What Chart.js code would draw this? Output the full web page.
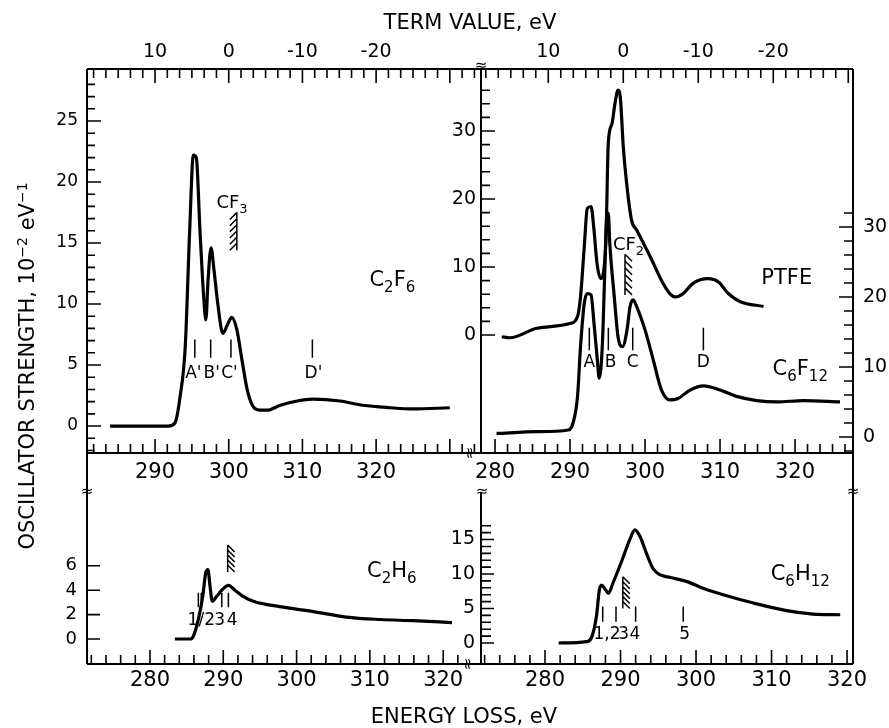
<!DOCTYPE html>
<html>
<head>
<meta charset="utf-8">
<script src="https://cdn.jsdelivr.net/npm/chart.js@4.4.1/dist/chart.umd.min.js"></script>
<style>
  body { margin: 0; background: #fff; }
  #fig { position: relative; width: 889px; height: 728px; overflow: hidden; font-family: 'DejaVu Sans', sans-serif; color: #000; }
  #fig canvas { position: absolute; left: 0; top: 0; }
  .title { position: absolute; font-size: 21px; line-height: 24px; white-space: nowrap; text-align: center; }
  .title sup { font-size: 14px; line-height: 0; vertical-align: 7px; }
  #termTitle { left: 370px; top: 10px; width: 200px; }
  #lossTitle { left: 364px; top: 704px; width: 200px; }
  #yTitle { left: -193px; top: 354px; width: 440px; transform: rotate(-90deg); }
</style>
</head>
<body>
<div id="fig">
  <canvas id="panelTL" width="889" height="728"></canvas>
  <canvas id="panelTR" width="889" height="728"></canvas>
  <canvas id="panelBL" width="889" height="728"></canvas>
  <canvas id="panelBR" width="889" height="728"></canvas>
  <div class="title" id="termTitle">TERM VALUE, eV</div>
  <div class="title" id="lossTitle">ENERGY LOSS, eV</div>
  <div class="title" id="yTitle">OSCILLATOR STRENGTH, 10<sup>−2</sup> eV<sup>−1</sup></div>
</div>
<script>
// ===================== Data =====================
const termTicks = [10, 0, -10, -20];
const c2f6XTicks = [290, 300, 310, 320];
const polyXTicks = [280, 290, 300, 310, 320];
const lowerXTicks = [280, 290, 300, 310, 320];
const c2f6YTicks = [0, 5, 10, 15, 20, 25];
const ptfeYTicks = [0, 10, 20, 30];
const c6f12YTicks = [0, 10, 20, 30];
const c2h6YTicks = [0, 2, 4, 6];
const c6h12YTicks = [0, 5, 10, 15];

// ionization limits used for the term value scales (term = IP - E)
const c2f6IP = 300.0;
const polyIP = 297.1;

// C2F6 (upper left)
const c2f6E = [283.9, 291.8, 292.7, 293.4, 294.1, 294.7, 295.2, 295.6, 296.1, 296.6, 296.9, 297.2, 297.6, 298.0, 298.5, 299.2, 299.9, 300.4, 301.1, 301.8, 302.5, 303.2, 304.2, 305.2, 307.0, 309.3, 311.4, 315.1, 318.2, 321.9, 325.0, 330.0];
const c2f6V = [0, 0, 0.25, 2.4, 6.5, 16, 22.2, 22, 16, 10.6, 8.7, 12, 14.6, 12.8, 10.1, 7.6, 8.4, 8.9, 7.9, 5.4, 3.0, 1.7, 1.3, 1.3, 1.7, 2.05, 2.2, 2.05, 1.7, 1.5, 1.4, 1.5];
const c2f6MarkE = [295.4, 297.55, 300.3, 311.35];
const c2f6LabelE = [295.2, 297.7, 300.1, 311.5];
const c2f6Names = ["A'", "B'", "C'", "D'"];

// PTFE and C6F12 (upper right)
const ptfeE = [280.9, 282.0, 285.6, 290.0, 291.0, 291.4, 291.9, 292.3, 292.8, 293.2, 293.6, 294.1, 294.4, 294.8, 295.1, 295.6, 296.0, 296.4, 296.7, 297.1, 297.6, 298.2, 298.9, 300.7, 302.4, 303.3, 304.1, 305.1, 306.4, 308.4, 309.8, 311.1, 312.7, 315.8];
const ptfeV = [-0.25, -0.4, 1.0, 1.7, 2.7, 5.6, 13.0, 18.6, 18.9, 15.4, 10.5, 8.3, 8.8, 14.5, 28.2, 31.1, 34.1, 36.0, 35.0, 27.7, 21.8, 16.9, 15.4, 11.5, 7.6, 6.1, 5.6, 6.1, 7.6, 8.3, 7.8, 6.1, 4.9, 4.2];
const c6f12E = [280.2, 285.6, 289.8, 290.4, 291.0, 291.4, 291.9, 292.3, 292.8, 293.2, 293.6, 293.9, 294.3, 294.6, 294.9, 295.1, 295.3, 295.9, 296.4, 297.0, 297.6, 298.0, 298.4, 298.9, 300.0, 301.1, 302.2, 303.3, 304.4, 306.0, 307.8, 310.0, 312.2, 314.9, 317.6, 321.1, 326.0];
const c6f12V = [0.5, 0.75, 1.0, 2.0, 5.8, 12.9, 19.1, 20.5, 20.3, 16.2, 11.5, 8.4, 12.9, 22.4, 31.5, 32.0, 27.7, 20.0, 14.3, 12.9, 15.3, 18.6, 19.6, 18.6, 15.3, 11.0, 6.7, 5.3, 5.5, 6.7, 7.3, 6.7, 5.8, 5.2, 5.0, 5.2, 5.0];
const c6f12MarkE = [292.57, 295.11, 298.36, 307.78];
const c6f12LabelE = [292.57, 295.4, 298.36, 307.78];
const c6f12Names = ['A', 'B', 'C', 'D'];

// C2H6 (lower left)
const c2h6E = [283.4, 285.5, 285.9, 286.6, 287.2, 287.6, 287.9, 288.2, 288.5, 289.1, 289.8, 290.7, 291.6, 292.7, 294.1, 297.7, 302.3, 306.8, 311.4, 315.9, 321.2];
const c2h6V = [0, 0, 0.2, 1.6, 3.5, 5.4, 5.7, 4.3, 3.1, 3.5, 4.0, 4.4, 4.0, 3.5, 3.1, 2.65, 2.25, 1.8, 1.6, 1.5, 1.35];
const c2h6MarkE = [286.6, 287.0, 289.8, 290.7];
const c2h6LabelE = [287.0, 289.5, 291.2];
const c2h6Names = ['1/2', '3', '4'];

// C6H12 (lower right)
const c6h12E = [281.8, 285.5, 286.2, 286.8, 287.2, 287.5, 287.9, 288.4, 289.0, 290.2, 291.3, 291.9, 292.6, 293.5, 294.3, 295.2, 296.6, 298.8, 301.0, 303.6, 307.6, 312.0, 315.5, 319.1];
const c6h12V = [0, 0.2, 0.9, 3.8, 7.7, 8.4, 7.9, 7.2, 8.7, 12.0, 15.2, 16.4, 15.4, 12.8, 10.8, 9.9, 9.5, 8.9, 7.9, 7.0, 5.8, 4.7, 4.2, 4.1];
const c6h12MarkE = [287.64, 289.4, 292.0, 298.3];
const c6h12LabelE = [288.2, 290.4, 291.9, 298.5];
const c6h12Names = ['1,2', '3', '4', '5'];

// ===================== Helpers =====================
const FONT = "'DejaVu Sans', sans-serif";
const W = 889, H = 728;

const pts = (xs, ys) => xs.map((x, i) => ({ x: x, y: ys[i] }));

// fixed box size per axis so the chart area lands exactly on the panel
function linAxis(position, min, max, values, size, pad, box, reverse) {
    const vertical = position === 'left' || position === 'right';
    return {
        type: 'linear',
        position: position,
        min: min,
        max: max,
        reverse: !!reverse,
        boxSize: box,
        grid: { display: false, drawTicks: false },
        border: { display: false },
        ticks: {
            color: '#000',
            padding: pad,
            autoSkip: false,
            maxRotation: 0,
            font: { family: FONT, size: size, lineHeight: 1 },
            callback: v => String(v)
        },
        afterBuildTicks: a => { a.ticks = values.map(v => ({ value: v })); },
        afterFit: a => { if (vertical) a.width = box; else a.height = box; }
    };
}

function drawChem(ctx, text, cx, cy, size) {
    const parts = text.match(/[^0-9]+|[0-9]+/g);
    const sub = Math.round(size * 0.72);
    let total = 0;
    const items = parts.map(p => {
        const isSub = /^[0-9]/.test(p);
        ctx.font = (isSub ? sub : size) + 'px ' + FONT;
        const w = ctx.measureText(p).width;
        total += w;
        return { p, isSub, w };
    });
    let x = cx - total / 2;
    const base = cy + size * 0.36;
    ctx.textAlign = 'left';
    ctx.textBaseline = 'alphabetic';
    items.forEach(it => {
        ctx.font = (it.isSub ? sub : size) + 'px ' + FONT;
        ctx.fillText(it.p, x, it.isSub ? base + size * 0.3 : base);
        x += it.w;
    });
}

// frame, inward ticks, peak markers, labels, hatches
const panelDecor = {
    id: 'panelDecor',
    afterDraw(chart, args, o) {
        const ctx = chart.ctx, a = chart.chartArea, sc = chart.scales;
        ctx.save();
        ctx.strokeStyle = '#000';
        ctx.fillStyle = '#000';
        ctx.lineCap = 'butt';

        // frame
        ctx.lineWidth = 2;
        ctx.beginPath();
        (o.frame || []).forEach(f => {
            const from = f.from || 0;
            if (f.side === 'left') { ctx.moveTo(a.left, a.top + from); ctx.lineTo(a.left, a.bottom); }
            if (f.side === 'right') { ctx.moveTo(a.right, a.top); ctx.lineTo(a.right, a.bottom); }
            if (f.side === 'top') { ctx.moveTo(a.left, a.top); ctx.lineTo(a.right, a.top); }
            if (f.side === 'bottom') { ctx.moveTo(a.left, a.bottom); ctx.lineTo(a.right, a.bottom); }
        });
        ctx.stroke();

        // ticks
        ctx.lineWidth = 1.6;
        ctx.beginPath();
        (o.ticks || []).forEach(t => {
            const s = sc[t.scale];
            const n = Math.round((t.end - t.start) / t.major * t.per);
            for (let k = 0; k <= n; k++) {
                const v = t.start + k * t.major / t.per;
                if (t.lo !== undefined && v < t.lo) continue;
                if (t.hi !== undefined && v > t.hi) continue;
                const p = s.getPixelForValue(v);
                const len = (k % t.per === 0) ? t.majorLen : t.minorLen;
                if (t.side === 'top' || t.side === 'bottom') {
                    if (p < a.left + 2 || p > a.right - 2) continue;
                    const y0 = t.side === 'top' ? a.top : a.bottom;
                    ctx.moveTo(p, y0);
                    ctx.lineTo(p, t.side === 'top' ? y0 + len : y0 - len);
                } else {
                    if (p < a.top + 2 || p > a.bottom - 2) continue;
                    const x0 = t.side === 'left' ? a.left : a.right;
                    ctx.moveTo(x0, p);
                    ctx.lineTo(t.side === 'left' ? x0 + len : x0 - len, p);
                }
            }
        });
        ctx.stroke();

        // peak markers
        ctx.lineWidth = 1.5;
        (o.markers || []).forEach(m => {
            const xs = sc.x, ys = sc[m.yScale || 'y'];
            ctx.beginPath();
            m.energies.forEach(e => {
                const px = xs.getPixelForValue(e);
                ctx.moveTo(px, ys.getPixelForValue(m.y0));
                ctx.lineTo(px, ys.getPixelForValue(m.y1));
            });
            ctx.stroke();
            ctx.font = m.size + 'px ' + FONT;
            ctx.textAlign = 'center';
            ctx.textBaseline = 'middle';
            m.labelE.forEach((e, i) => {
                ctx.fillText(m.names[i], xs.getPixelForValue(e), ys.getPixelForValue(m.labelY));
            });
        });

        // hatched thresholds
        (o.hatches || []).forEach(h => {
            const ys = sc[h.yScale || 'y'];
            const px = sc.x.getPixelForValue(h.x);
            const py0 = ys.getPixelForValue(h.y0), py1 = ys.getPixelForValue(h.y1);
            ctx.lineWidth = 1.5;
            ctx.beginPath();
            ctx.moveTo(px, py0);
            ctx.lineTo(px, py1);
            const step = (py1 - py0 - 7) / (h.n - 1);
            for (let i = 0; i < h.n; i++) {
                const py = py0 + i * step;
                ctx.moveTo(px, py);
                ctx.lineTo(px + h.dir * 7, py + 7);
            }
            ctx.stroke();
        });

        // curve labels
        (o.labels || []).forEach(l => {
            const ys = sc[l.yScale || 'y'];
            drawChem(ctx, l.text, sc.x.getPixelForValue(l.x), ys.getPixelForValue(l.y), l.size);
        });

        // axis break symbols
        (o.breaks || []).forEach(b => {
            ctx.save();
            ctx.translate(b.x, b.y);
            ctx.rotate(b.rot * Math.PI / 180);
            ctx.font = '15px ' + FONT;
            ctx.textAlign = 'center';
            ctx.textBaseline = 'middle';
            ctx.fillText('\u2248', 0, 0);
            ctx.restore();
        });
        ctx.restore();
    }
};

function panelChart(id, area, datasets, scales, decor) {
    // subtract the fixed axis boxes from the outer padding
    const pad = { left: area.l, top: area.t, right: W - area.r, bottom: H - area.b };
    Object.values(scales).forEach(s => { pad[s.position] -= s.boxSize; });
    return new Chart(document.getElementById(id), {
        type: 'line',
        data: { datasets: datasets },
        options: {
            responsive: false,
            animation: false,
            devicePixelRatio: 1,
            layout: { padding: pad },
            elements: {
                point: { radius: 0 },
                line: { borderColor: '#000', borderWidth: 3.2, cubicInterpolationMode: 'monotone', fill: false }
            },
            plugins: { legend: { display: false }, tooltip: { enabled: false }, panelDecor: decor },
            scales: scales
        },
        plugins: [panelDecor]
    });
}

// ===================== Panels =====================
// upper left: C2F6
const tlMin = 280.77, tlMax = 334.23;
panelChart('panelTL', { l: 87, t: 69, r: 481, b: 453 },
    [{ data: pts(c2f6E, c2f6V) }],
    {
        x: linAxis('bottom', tlMin, tlMax, c2f6XTicks, 21, 9.5, 40),
        xt: linAxis('top', c2f6IP - tlMax, c2f6IP - tlMin, termTicks, 19, 7, 40, true),
        y: linAxis('left', -2.21, 29.26, c2f6YTicks, 17, 9, 60)
    },
    {
        frame: [{ side: 'left' }, { side: 'top' }, { side: 'right' }, { side: 'bottom' }],
        ticks: [
            { scale: 'xt', side: 'top', start: -40, end: 20, major: 10, per: 6, majorLen: 14, minorLen: 9 },
            { scale: 'x', side: 'bottom', start: 270, end: 340, major: 10, per: 6, majorLen: 14, minorLen: 9 },
            { scale: 'y', side: 'left', start: -5, end: 28, major: 5, per: 5, majorLen: 14, minorLen: 8 }
        ],
        markers: [{ energies: c2f6MarkE, labelE: c2f6LabelE, names: c2f6Names, y0: 7.1, y1: 5.6, labelY: 4.3, size: 17 }],
        hatches: [{ x: 301.1, y0: 17.5, y1: 14.4, dir: -1, n: 6 }],
        labels: [
            { text: 'C2F6', x: 322.2, y: 12.1, size: 21 },
            { text: 'CF3', x: 300.45, y: 18.4, size: 18 }
        ],
        breaks: [
            { x: 481, y: 66, rot: 0 },
            { x: 469, y: 453, rot: 90 },
            { x: 87, y: 492, rot: 0 },
            { x: 482, y: 492, rot: 0 },
            { x: 853, y: 492, rot: 0 },
            { x: 467, y: 664, rot: 90 }
        ]
    });

// upper right: PTFE and C6F12
const trMin = 278.13, trMax = 327.73;
panelChart('panelTR', { l: 481, t: 69, r: 853, b: 453 },
    [
        { data: pts(ptfeE, ptfeV), yAxisID: 'y' },
        { data: pts(c6f12E, c6f12V), yAxisID: 'y2' }
    ],
    {
        x: linAxis('bottom', trMin, trMax, polyXTicks, 21, 9.5, 40),
        xt: linAxis('top', polyIP - trMax, polyIP - trMin, termTicks, 19, 7, 40, true),
        y: linAxis('left', -17.35, 39.12, ptfeYTicks, 19, 5, 60),
        y2: linAxis('right', -2.29, 52.57, c6f12YTicks, 19, 10, 36)
    },
    {
        frame: [{ side: 'left' }, { side: 'top' }, { side: 'right' }, { side: 'bottom' }],
        ticks: [
            { scale: 'xt', side: 'top', start: -40, end: 20, major: 10, per: 6, majorLen: 14, minorLen: 9 },
            { scale: 'x', side: 'bottom', start: 270, end: 330, major: 10, per: 6, majorLen: 14, minorLen: 9 },
            { scale: 'y', side: 'left', start: 0, end: 36, major: 10, per: 5, majorLen: 14, minorLen: 9 },
            { scale: 'y2', side: 'right', start: -10, end: 32, lo: -2, major: 10, per: 5, majorLen: 14, minorLen: 9 }
        ],
        markers: [{ energies: c6f12MarkE, labelE: c6f12LabelE, names: c6f12Names, yScale: 'y2', y0: 15.6, y1: 12.4, labelY: 10.6, size: 17 }],
        hatches: [{ x: 297.33, y0: 26.1, y1: 20.3, dir: 1, n: 6, yScale: 'y2' }],
        labels: [
            { text: 'PTFE', x: 318.9, y: 8.6, size: 21 },
            { text: 'C6F12', x: 320.7, y: 10.0, size: 21, yScale: 'y2' },
            { text: 'CF2', x: 297.8, y: 27.7, size: 18, yScale: 'y2' }
        ]
    });

// lower left: C2H6
panelChart('panelBL', { l: 87, t: 453, r: 481, b: 664 },
    [{ data: pts(c2h6E, c2h6V) }],
    {
        x: linAxis('bottom', 271.41, 325.16, lowerXTicks, 21, 6.5, 40),
        y: linAxis('left', -2.05, 15.25, c2h6YTicks, 18, 10, 60)
    },
    {
        frame: [{ side: 'left' }, { side: 'bottom' }],
        ticks: [
            { scale: 'x', side: 'bottom', start: 270, end: 322, major: 10, per: 5, majorLen: 14, minorLen: 9 },
            { scale: 'y', side: 'left', start: 0, end: 6, major: 2, per: 1, majorLen: 13, minorLen: 13 }
        ],
        markers: [{ energies: c2h6MarkE, labelE: c2h6LabelE, names: c2h6Names, y0: 3.8, y1: 2.6, labelY: 1.55, size: 17 }],
        hatches: [{ x: 290.6, y0: 7.7, y1: 5.5, dir: 1, n: 5 }],
        labels: [{ text: 'C2H6', x: 313.0, y: 5.7, size: 21 }]
    });

// lower right: C6H12
panelChart('panelBR', { l: 481, t: 453, r: 853, b: 664 },
    [{ data: pts(c6h12E, c6h12V) }],
    {
        x: linAxis('bottom', 271.52, 320.79, lowerXTicks, 21, 6.5, 40),
        y: linAxis('left', -3.04, 27.54, c6h12YTicks, 19, 6, 60)
    },
    {
        frame: [{ side: 'left', from: 40 }, { side: 'right' }, { side: 'bottom' }],
        ticks: [
            { scale: 'x', side: 'bottom', start: 270, end: 320, major: 10, per: 5, majorLen: 14, minorLen: 9 },
            { scale: 'y', side: 'left', start: 0, end: 17, major: 5, per: 5, majorLen: 13, minorLen: 10 }
        ],
        markers: [{ energies: c6h12MarkE, labelE: c6h12LabelE, names: c6h12Names, y0: 5.3, y1: 3.1, labelY: 1.2, size: 17 }],
        hatches: [{ x: 290.3, y0: 9.6, y1: 5.0, dir: 1, n: 6 }],
        labels: [{ text: 'C6H12', x: 313.8, y: 10.3, size: 21 }]
    });
</script>
</body>
</html>
